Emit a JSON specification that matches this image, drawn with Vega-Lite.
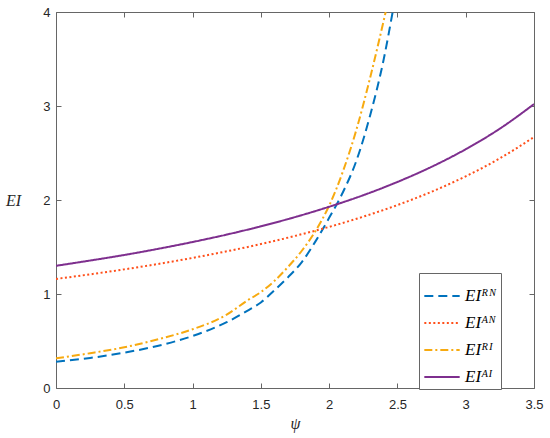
{
  "$schema": "https://vega.github.io/schema/vega-lite/v6.json",
  "width": 478,
  "height": 376,
  "autosize": "none",
  "padding": {"left": 56, "top": 12, "right": 16, "bottom": 50},
  "background": "white",
  "config": {
    "view": {"stroke": null},
    "axis": {
      "grid": false,
      "domainColor": "#666666",
      "tickColor": "#666666",
      "labelColor": "#262626",
      "labelFont": "Liberation Sans",
      "labelFontSize": 13,
      "labelFlush": false,
      "tickSize": -5,
      "titleColor": "#262626"
    }
  },
  "datasets": {
    "curves": [
      {"psi": 0.0, "EI": 0.28, "series": "EIᴿᴺ"},
      {"psi": 0.25, "EI": 0.32, "series": "EIᴿᴺ"},
      {"psi": 0.5, "EI": 0.376, "series": "EIᴿᴺ"},
      {"psi": 0.75, "EI": 0.45, "series": "EIᴿᴺ"},
      {"psi": 1.0, "EI": 0.553, "series": "EIᴿᴺ"},
      {"psi": 1.25, "EI": 0.7, "series": "EIᴿᴺ"},
      {"psi": 1.4, "EI": 0.82, "series": "EIᴿᴺ"},
      {"psi": 1.5, "EI": 0.91, "series": "EIᴿᴺ"},
      {"psi": 1.6, "EI": 1.04, "series": "EIᴿᴺ"},
      {"psi": 1.7, "EI": 1.18, "series": "EIᴿᴺ"},
      {"psi": 1.8, "EI": 1.34, "series": "EIᴿᴺ"},
      {"psi": 1.9, "EI": 1.56, "series": "EIᴿᴺ"},
      {"psi": 2.0, "EI": 1.81, "series": "EIᴿᴺ"},
      {"psi": 2.1, "EI": 2.08, "series": "EIᴿᴺ"},
      {"psi": 2.2, "EI": 2.42, "series": "EIᴿᴺ"},
      {"psi": 2.3, "EI": 2.9, "series": "EIᴿᴺ"},
      {"psi": 2.4, "EI": 3.5, "series": "EIᴿᴺ"},
      {"psi": 2.465, "EI": 4.0, "series": "EIᴿᴺ"},

      {"psi": 0.0, "EI": 1.16, "series": "EIᴬᴺ"},
      {"psi": 0.25, "EI": 1.209, "series": "EIᴬᴺ"},
      {"psi": 0.5, "EI": 1.262, "series": "EIᴬᴺ"},
      {"psi": 0.75, "EI": 1.32, "series": "EIᴬᴺ"},
      {"psi": 1.0, "EI": 1.384, "series": "EIᴬᴺ"},
      {"psi": 1.25, "EI": 1.454, "series": "EIᴬᴺ"},
      {"psi": 1.5, "EI": 1.531, "series": "EIᴬᴺ"},
      {"psi": 1.75, "EI": 1.618, "series": "EIᴬᴺ"},
      {"psi": 2.0, "EI": 1.714, "series": "EIᴬᴺ"},
      {"psi": 2.25, "EI": 1.823, "series": "EIᴬᴺ"},
      {"psi": 2.5, "EI": 1.946, "series": "EIᴬᴺ"},
      {"psi": 2.75, "EI": 2.088, "series": "EIᴬᴺ"},
      {"psi": 3.0, "EI": 2.252, "series": "EIᴬᴺ"},
      {"psi": 3.25, "EI": 2.443, "series": "EIᴬᴺ"},
      {"psi": 3.5, "EI": 2.67, "series": "EIᴬᴺ"},

      {"psi": 0.0, "EI": 0.316, "series": "EIᴿᴵ"},
      {"psi": 0.25, "EI": 0.37, "series": "EIᴿᴵ"},
      {"psi": 0.5, "EI": 0.433, "series": "EIᴿᴵ"},
      {"psi": 0.75, "EI": 0.52, "series": "EIᴿᴵ"},
      {"psi": 1.0, "EI": 0.625, "series": "EIᴿᴵ"},
      {"psi": 1.25, "EI": 0.78, "series": "EIᴿᴵ"},
      {"psi": 1.4, "EI": 0.93, "series": "EIᴿᴵ"},
      {"psi": 1.5, "EI": 1.02, "series": "EIᴿᴵ"},
      {"psi": 1.6, "EI": 1.14, "series": "EIᴿᴵ"},
      {"psi": 1.7, "EI": 1.29, "series": "EIᴿᴵ"},
      {"psi": 1.8, "EI": 1.46, "series": "EIᴿᴵ"},
      {"psi": 1.9, "EI": 1.67, "series": "EIᴿᴵ"},
      {"psi": 2.0, "EI": 1.94, "series": "EIᴿᴵ"},
      {"psi": 2.1, "EI": 2.3, "series": "EIᴿᴵ"},
      {"psi": 2.2, "EI": 2.75, "series": "EIᴿᴵ"},
      {"psi": 2.3, "EI": 3.3, "series": "EIᴿᴵ"},
      {"psi": 2.414, "EI": 4.0, "series": "EIᴿᴵ"},

      {"psi": 0.0, "EI": 1.3, "series": "EIᴬᴵ"},
      {"psi": 0.25, "EI": 1.356, "series": "EIᴬᴵ"},
      {"psi": 0.5, "EI": 1.415, "series": "EIᴬᴵ"},
      {"psi": 0.75, "EI": 1.481, "series": "EIᴬᴵ"},
      {"psi": 1.0, "EI": 1.553, "series": "EIᴬᴵ"},
      {"psi": 1.25, "EI": 1.632, "series": "EIᴬᴵ"},
      {"psi": 1.5, "EI": 1.72, "series": "EIᴬᴵ"},
      {"psi": 1.75, "EI": 1.818, "series": "EIᴬᴵ"},
      {"psi": 2.0, "EI": 1.928, "series": "EIᴬᴵ"},
      {"psi": 2.25, "EI": 2.051, "series": "EIᴬᴵ"},
      {"psi": 2.5, "EI": 2.192, "series": "EIᴬᴵ"},
      {"psi": 2.75, "EI": 2.353, "series": "EIᴬᴵ"},
      {"psi": 3.0, "EI": 2.54, "series": "EIᴬᴵ"},
      {"psi": 3.25, "EI": 2.759, "series": "EIᴬᴵ"},
      {"psi": 3.5, "EI": 3.02, "series": "EIᴬᴵ"}
    ]
  },
  "data": {"name": "curves"},
  "layer": [
    {
      "mark": {"type": "line", "strokeWidth": 2, "interpolate": "monotone", "clip": true},
      "encoding": {
        "x": {
          "field": "psi", "type": "quantitative",
          "scale": {"domain": [0, 3.5], "nice": false},
          "axis": {
            "values": [0, 0.5, 1, 1.5, 2, 2.5, 3, 3.5],
            "format": "~g",
            "labelPadding": 15,
            "title": "ψ",
            "titleFont": "Liberation Serif",
            "titleFontStyle": "italic",
            "titleFontWeight": "normal",
            "titleFontSize": 16,
            "titlePadding": 4
          }
        },
        "y": {
          "field": "EI", "type": "quantitative",
          "scale": {"domain": [0, 4], "nice": false},
          "axis": {
            "values": [0, 1, 2, 3, 4],
            "labelPadding": 11,
            "title": "EI",
            "titleAngle": 0,
            "titleFont": "Liberation Serif",
            "titleFontStyle": "italic",
            "titleFontWeight": "normal",
            "titleFontSize": 16,
            "titleAlign": "center",
            "titleBaseline": "middle",
            "titleX": -43,
            "titleY": 188
          }
        },
        "color": {
          "field": "series", "type": "nominal",
          "scale": {
            "domain": ["EIᴿᴺ", "EIᴬᴺ", "EIᴿᴵ", "EIᴬᴵ"],
            "range": ["#0072BD", "#FF4F1A", "#F7AA10", "#7E2F8E"]
          },
          "legend": {
            "title": null,
            "orient": "none",
            "legendX": 363,
            "legendY": 261,
            "symbolType": "stroke",
            "symbolSize": 1250,
            "symbolStrokeWidth": 2,
            "labelFont": "Liberation Serif, DejaVu Serif",
            "labelFontStyle": "italic",
            "labelFontSize": 17,
            "labelColor": "#000000",
            "labelOffset": 4,
            "strokeColor": "#666666",
            "fillColor": "white",
            "padding": 4,
            "rowPadding": 0
          }
        },
        "strokeDash": {
          "field": "series", "type": "nominal",
          "scale": {
            "domain": ["EIᴿᴺ", "EIᴬᴺ", "EIᴿᴵ", "EIᴬᴵ"],
            "range": [[9, 5], [2, 2.5], [8, 3, 2, 3], [1, 0]]
          },
          "legend": null
        }
      }
    },
    {
      "mark": {"type": "line", "opacity": 0},
      "encoding": {
        "x": {
          "field": "psi", "type": "quantitative",
          "axis": {"orient": "top", "values": [0, 0.5, 1, 1.5, 2, 2.5, 3, 3.5], "labels": false, "title": null}
        },
        "y": {
          "field": "EI", "type": "quantitative",
          "axis": {"orient": "right", "values": [0, 1, 2, 3, 4], "labels": false, "title": null}
        },
        "detail": {"field": "series", "type": "nominal"}
      }
    }
  ],
  "resolve": {"axis": {"x": "independent", "y": "independent"}}
}
